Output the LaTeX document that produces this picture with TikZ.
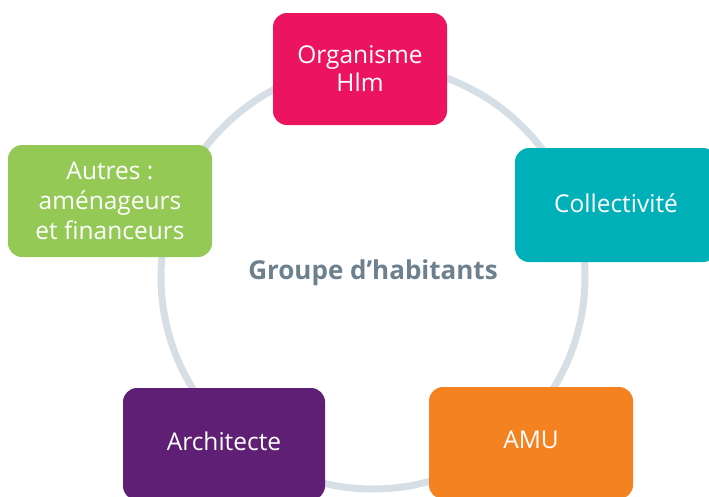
\documentclass[tikz,border=0pt]{standalone}
\usepackage{fontspec}
\setmainfont{Open Sans}
\usepackage{xcolor}
\usepackage{tikz}
\usetikzlibrary{positioning}
\definecolor{hlmpink}{HTML}{EC145F}
\definecolor{colteal}{HTML}{00B0B9}
\definecolor{autgreen}{HTML}{93C954}
\definecolor{archpurple}{HTML}{5E1F74}
\definecolor{amuorange}{HTML}{F58220}
\definecolor{ringgray}{HTML}{D6DFE6}
\definecolor{textgray}{HTML}{6C818D}
\tikzstyle{actor} = [rectangle, rounded corners=14pt, minimum width=202pt, minimum height=112pt, text centered, align=center, text=white, font=\fontsize{24.5}{30}\selectfont, inner sep=0pt]
\tikzstyle{ring} = [line width=7pt, draw=ringgray]

\begin{document}
\begin{tikzpicture}[x=1pt,y=-1pt]
            \clip (0,0) rectangle (709,496);
            \draw[ring] (373,277) circle (212pt);
            \node[actor, fill=hlmpink, minimum width=174pt] (hlm) at (360,69) {Organisme\\[-2pt]Hlm};
            \node[actor, fill=colteal, minimum height=114pt] (coll) at (616,205) {\raisebox{4pt}{Collectivit\'e}};
            \node[actor, fill=autgreen, minimum width=204pt] (autres) at (110,201) {Autres :\\am\'enageurs\\et financeurs};
            \node[actor, fill=archpurple] (archi) at (224,444) {\raisebox{6pt}{Architecte}};
            \node[actor, fill=amuorange, minimum width=204pt] (amu) at (531,443) {\raisebox{6pt}{AMU}};
            \node[text=textgray, font=\fontsize{26}{30}\selectfont\bfseries] (groupe) at (373,273) {Groupe d’habitants};
        \end{tikzpicture}
\end{document}
